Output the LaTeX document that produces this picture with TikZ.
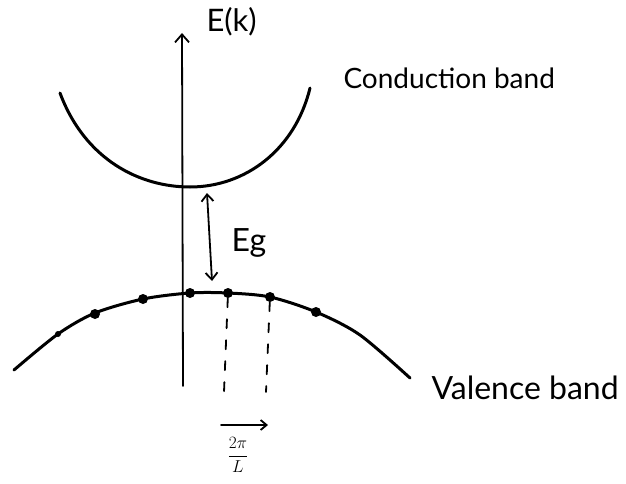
\documentclass[tikz,border=0pt]{standalone}
\usepackage{fontspec}
\setmainfont{Lato}
\usetikzlibrary{arrows.meta}
\begin{document}
\begin{tikzpicture}[x=1pt,y=-1pt,
  band/.style={line width=3pt,line cap=round,line join=round},
  thin/.style={line width=1.8pt,line cap=round},
  dot/.style={circle,fill=black,inner sep=0pt,minimum size=10pt},
  lbl/.style={font=\fontsize{28}{32}\selectfont}]
\useasboundingbox (0,0) rectangle (626,484);
% axis
\coordinate (abot) at (183,386);
\coordinate (atop) at (182,33);
\draw[thin,-{Straight Barb[length=8pt,width=14pt,line width=1.8pt]}] (abot) -- (atop);
\node[lbl,font=\fontsize{31}{34}\selectfont,anchor=west] (ek) at (203,22) {E(k)};
% conduction band
\coordinate (c1) at (60,93);
\coordinate (cm) at (190,187);
\coordinate (c2) at (310,88);
\draw[band] (c1) .. controls (85,160) and (140,187) .. (cm) .. controls (245,187) and (295,150) .. (c2);
\node[lbl,anchor=west] (cb) at (340,78) {Conduction band};
% gap arrow
\coordinate (g1) at (207,193);
\coordinate (g2) at (212,281);
\draw[thin,{Straight Barb[length=7pt,width=12pt,line width=1.8pt]}-{Straight Barb[length=7pt,width=12pt,line width=1.8pt]}] (g1) -- (g2);
\node[lbl,font=\fontsize{32}{36}\selectfont,anchor=west] (eg) at (228,243) {Eg};
% valence band
\draw[band] plot[smooth,tension=0.5] coordinates {(14,370) (58,334) (95,313) (143,299) (190,293) (228,293) (270,297) (316,312) (360,335) (410,378)};
\node[dot,minimum size=6pt] (d1) at (58,334) {};
\node[dot] (d2) at (95,314) {};
\node[dot] (d3) at (143,299) {};
\node[dot] (d4) at (190,293) {};
\node[dot] (d5) at (228,293) {};
\node[dot] (d6) at (270,297) {};
\node[dot] (d7) at (316,312) {};
\node[lbl,font=\fontsize{32}{35}\selectfont,anchor=west] (vb) at (428,388) {Valence band};
% dashed lines
\coordinate (e5) at (224,392);
\coordinate (e6) at (266,392);
\draw[thin,dash pattern=on 9pt off 12pt] (d5) -- (e5);
\draw[thin,dash pattern=on 9pt off 12pt] (d6) -- (e6);
% spacing arrow
\coordinate (s1) at (221,425);
\coordinate (s2) at (268,425);
\draw[thin,-{Straight Barb[length=6pt,width=10pt,line width=1.8pt]}] (s1) -- (s2);
\node[font=\fontsize{17}{20}\selectfont] (frac) at (238,455) {$\displaystyle\frac{2\pi}{L}$};
\end{tikzpicture}
\end{document}
